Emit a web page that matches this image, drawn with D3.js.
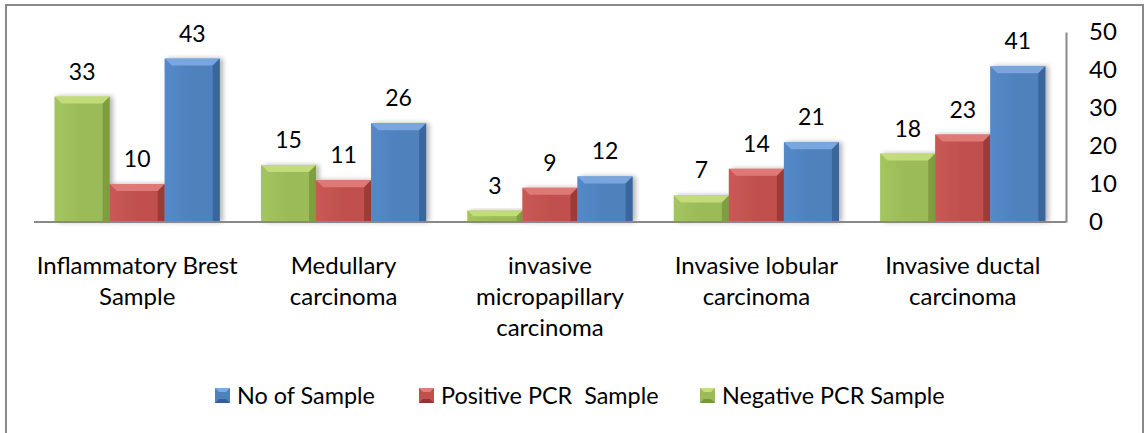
<!DOCTYPE html>
<html>
<head>
<meta charset="utf-8">
<script src="https://cdn.jsdelivr.net/npm/d3@7"></script>
<style>
  html, body { margin: 0; padding: 0; background: #fff; }
  svg { display: block; font-family: Lato, "Open Sans", sans-serif; }
  text { white-space: pre; }
</style>
</head>
<body>
<svg id="chart" width="1144" height="433"></svg>
<script>
// Sample counts per breast cancer type
const categories = [
  "Inflammatory Brest Sample",
  "Medullary carcinoma",
  "invasive micropapillary carcinoma",
  "Invasive lobular carcinoma",
  "Invasive ductal carcinoma"
];
const categoryLines = [
  ["Inflammatory Brest", "Sample"],
  ["Medullary", "carcinoma"],
  ["invasive", "micropapillary", "carcinoma"],
  ["Invasive lobular", "carcinoma"],
  ["Invasive ductal", "carcinoma"]
];
const negativePCR = [33, 15, 3, 7, 18];
const positivePCR = [10, 11, 9, 14, 23];
const noOfSample  = [43, 26, 12, 21, 41];
const seriesNames = ["Negative PCR Sample", "Positive PCR  Sample", "No of Sample"];
const legendOrder = ["No of Sample", "Positive PCR  Sample", "Negative PCR Sample"];
const yTicks = [0, 10, 20, 30, 40, 50];

const palette = {
  "Negative PCR Sample":  { base: "#9bbb59", light: "#c6df7c", dark: "#77973a", mid: "#a3c45e" },
  "Positive PCR  Sample": { base: "#c0504d", light: "#e27d79", dark: "#923432", mid: "#c95855" },
  "No of Sample":         { base: "#4f81bd", light: "#7eaae2", dark: "#345f94", mid: "#5489c8" }
};

const seriesValues = {
  "Negative PCR Sample": negativePCR,
  "Positive PCR  Sample": positivePCR,
  "No of Sample": noOfSample
};

const svg = d3.select("#chart");

// Outer chart frame
svg.append("rect")
  .attr("x", 6).attr("y", 5)
  .attr("width", 1137).attr("height", 440)
  .attr("fill", "#fff")
  .attr("stroke", "#898989").attr("stroke-width", 2);

const plot = { left: 34, right: 1066, top: 32, bottom: 222 };

const x = d3.scaleBand()
  .domain(categories)
  .range([plot.left, plot.right])
  .paddingInner(0.2)
  .paddingOuter(0.1);

const xInner = d3.scaleBand()
  .domain(seriesNames)
  .range([0, x.bandwidth()]);

const y = d3.scaleLinear().domain([0, 50]).range([plot.bottom, plot.top]);

// Gradients and shadow
const defs = svg.append("defs");
seriesNames.forEach((s, i) => {
  const c = palette[s];
  const g = defs.append("linearGradient").attr("id", "grad" + i)
    .attr("x1", "0").attr("x2", "1").attr("y1", "0").attr("y2", "0");
  g.append("stop").attr("offset", "0").attr("stop-color", c.mid);
  g.append("stop").attr("offset", "0.5").attr("stop-color", c.base);
  g.append("stop").attr("offset", "1").attr("stop-color", c.base);
});
const shadow = defs.append("filter").attr("id", "shadow")
  .attr("x", "-20%").attr("y", "-20%").attr("width", "150%").attr("height", "140%");
shadow.append("feGaussianBlur").attr("in", "SourceAlpha").attr("stdDeviation", 2.5).attr("result", "b");
shadow.append("feOffset").attr("in", "b").attr("dx", 3).attr("dy", 0).attr("result", "o");
shadow.append("feComponentTransfer").attr("in", "o").attr("result", "s")
  .append("feFuncA").attr("type", "linear").attr("slope", 0.3);
const merge = shadow.append("feMerge");
merge.append("feMergeNode").attr("in", "s");
merge.append("feMergeNode").attr("in", "SourceGraphic");

// Bars with bevelled edges
const bars = [];
categories.forEach((cat, ci) => {
  seriesNames.forEach((s, si) => {
    bars.push({ cat, s, si, v: seriesValues[s][ci] });
  });
});

const barG = svg.append("g");
const bevel = 7;
const barSel = barG.selectAll("g.bar").data(bars).join("g")
  .attr("class", "bar")
  .attr("filter", "url(#shadow)");

barSel.each(function(d) {
  const g = d3.select(this);
  const x0 = x(d.cat) + xInner(d.s);
  const w = xInner.bandwidth();
  const y0 = y(d.v);
  const h = y(0) - y0;
  const b = Math.min(bevel, h / 2, w / 2);
  const c = palette[d.s];
  g.append("rect").attr("x", x0).attr("y", y0).attr("width", w).attr("height", h)
    .attr("fill", "url(#grad" + d.si + ")");
  // top bevel
  g.append("path")
    .attr("d", `M${x0},${y0}L${x0 + w},${y0}L${x0 + w - b},${y0 + b}L${x0 + b},${y0 + b}Z`)
    .attr("fill", c.light).attr("opacity", 0.9);
  // left bevel
  g.append("path")
    .attr("d", `M${x0},${y0}L${x0 + b},${y0 + b}L${x0 + b},${y0 + h}L${x0},${y0 + h}Z`)
    .attr("fill", c.mid).attr("opacity", 0.7);
  // right bevel
  g.append("path")
    .attr("d", `M${x0 + w},${y0}L${x0 + w},${y0 + h}L${x0 + w - b},${y0 + h}L${x0 + w - b},${y0 + b}Z`)
    .attr("fill", c.dark).attr("opacity", 0.8);
});

// Value labels
barG.selectAll("text.val").data(bars).join("text")
  .attr("class", "val")
  .attr("x", d => x(d.cat) + xInner(d.s) + xInner.bandwidth() / 2)
  .attr("y", d => y(d.v) - 17)
  .attr("text-anchor", "middle")
  .attr("font-size", 23)
  .attr("fill", "#000")
  .text(d => d.v);

// Baseline
svg.append("line")
  .attr("x1", plot.left).attr("x2", plot.right)
  .attr("y1", y(0)).attr("y2", y(0))
  .attr("stroke", "#898989").attr("stroke-width", 2);

// Right value axis
const yAxis = d3.axisRight(y).tickValues(yTicks).tickSize(0).tickPadding(23);
const ax = svg.append("g").attr("transform", `translate(${plot.right},0)`).call(yAxis);
ax.select(".domain").attr("stroke", "#898989").attr("stroke-width", 2);
ax.selectAll("text").attr("font-size", 24).attr("font-family", "Lato, sans-serif").attr("fill", "#000");

// Category labels
const catG = svg.append("g");
categories.forEach((cat, i) => {
  const t = catG.append("text")
    .attr("x", x(cat) + x.bandwidth() / 2)
    .attr("y", 274)
    .attr("text-anchor", "middle")
    .attr("font-size", 24)
    .attr("fill", "#000");
  categoryLines[i].forEach((line, li) => {
    t.append("tspan").attr("x", x(cat) + x.bandwidth() / 2)
      .attr("dy", li === 0 ? 0 : 31).text(line);
  });
});

// Legend
const legendX = [215, 419, 700];
const legend = svg.append("g");
legendOrder.forEach((s, i) => {
  const c = palette[s];
  const lg = legend.append("g").attr("transform", `translate(${legendX[i]},388)`);
  lg.append("rect").attr("x", 0).attr("y", 0).attr("width", 15).attr("height", 15).attr("fill", c.base);
  lg.append("path").attr("d", "M0,0L15,0L11,4L4,4Z").attr("fill", c.light);
  lg.append("path").attr("d", "M0,15L15,15L11,11L4,11Z").attr("fill", c.dark);
  lg.append("text").attr("x", 22).attr("y", 16)
    .attr("font-size", 23.4).attr("fill", "#000").text(s);
});
</script>
</body>
</html>
